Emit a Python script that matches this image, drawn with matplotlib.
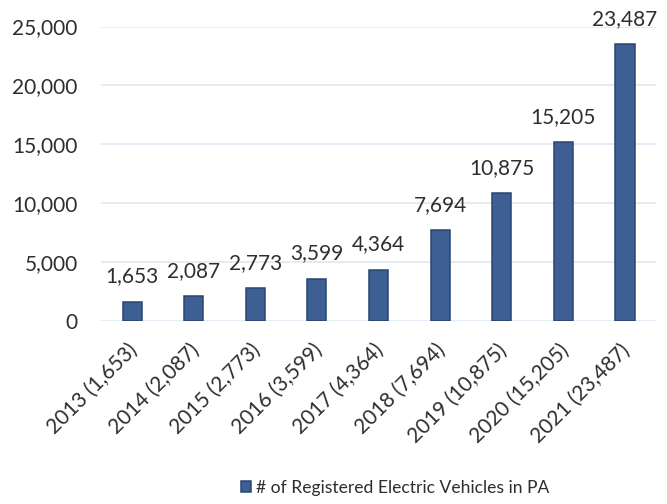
import matplotlib
matplotlib.use("Agg")
import matplotlib.pyplot as plt
import matplotlib.transforms as mtransforms

plt.rcParams['font.family'] = ['Lato', 'DejaVu Sans']

years = ["2013", "2014", "2015", "2016", "2017", "2018", "2019", "2020", "2021"]
vehicles = [1653, 2087, 2773, 3599, 4364, 7694, 10875, 15205, 23487]
yticks = [0, 5000, 10000, 15000, 20000, 25000]
series_name = "# of Registered Electric Vehicles in PA"

labels = [f"{y} ({v:,})" for y, v in zip(years, vehicles)]
text_color = "#2e2e2e"

fig = plt.figure(figsize=(6.67, 5.04), dpi=100)
ax = fig.add_axes([0.1518, 0.3631, 0.8314, 0.5843])

x = range(len(years))
bars = ax.bar(x, vehicles, width=0.31, color="#3D5F94", edgecolor="#2A4670",
              linewidth=1.1, label=series_name, zorder=3)

# value labels above bars
for xi, v in zip(x, vehicles):
    ax.annotate(f"{v:,}", (xi, v), xytext=(0, 11), textcoords="offset points",
                ha="center", va="bottom", fontsize=15, color=text_color,
                annotation_clip=False)

ax.set_xlim(-0.5, len(years) - 0.5)
ax.set_ylim(0, 25000)
ax.set_yticks(yticks)
ax.set_yticklabels([f"{t:,}" for t in yticks], fontsize=15, color=text_color)
ax.set_xticks(list(x))
ax.tick_params(axis="both", length=0)
ax.tick_params(axis="x", pad=0)
ax.tick_params(axis="y", pad=17)
ax.set_xticklabels(labels, rotation=45, ha="right", va="center",
                   rotation_mode="anchor", fontsize=15, color=text_color)
# shift rotated labels so their ends sit just right of each bar
offset = mtransforms.ScaledTranslation(2 / 100, -26 / 100, fig.dpi_scale_trans)
for lab in ax.get_xticklabels():
    lab.set_transform(lab.get_transform() + offset)

for s in ax.spines.values():
    s.set_visible(False)
ax.yaxis.grid(True, color="#dfe8f2", linewidth=1.2, zorder=0)
ax.set_axisbelow(True)

fig.legend(handles=[bars], labels=[series_name], loc="center",
           bbox_to_anchor=(0.592, 0.032), frameon=False, fontsize=12.6,
           handlelength=0.6, handleheight=0.6, handletextpad=0.25,
           labelcolor=text_color)

fig.savefig("out.png", dpi=100)
